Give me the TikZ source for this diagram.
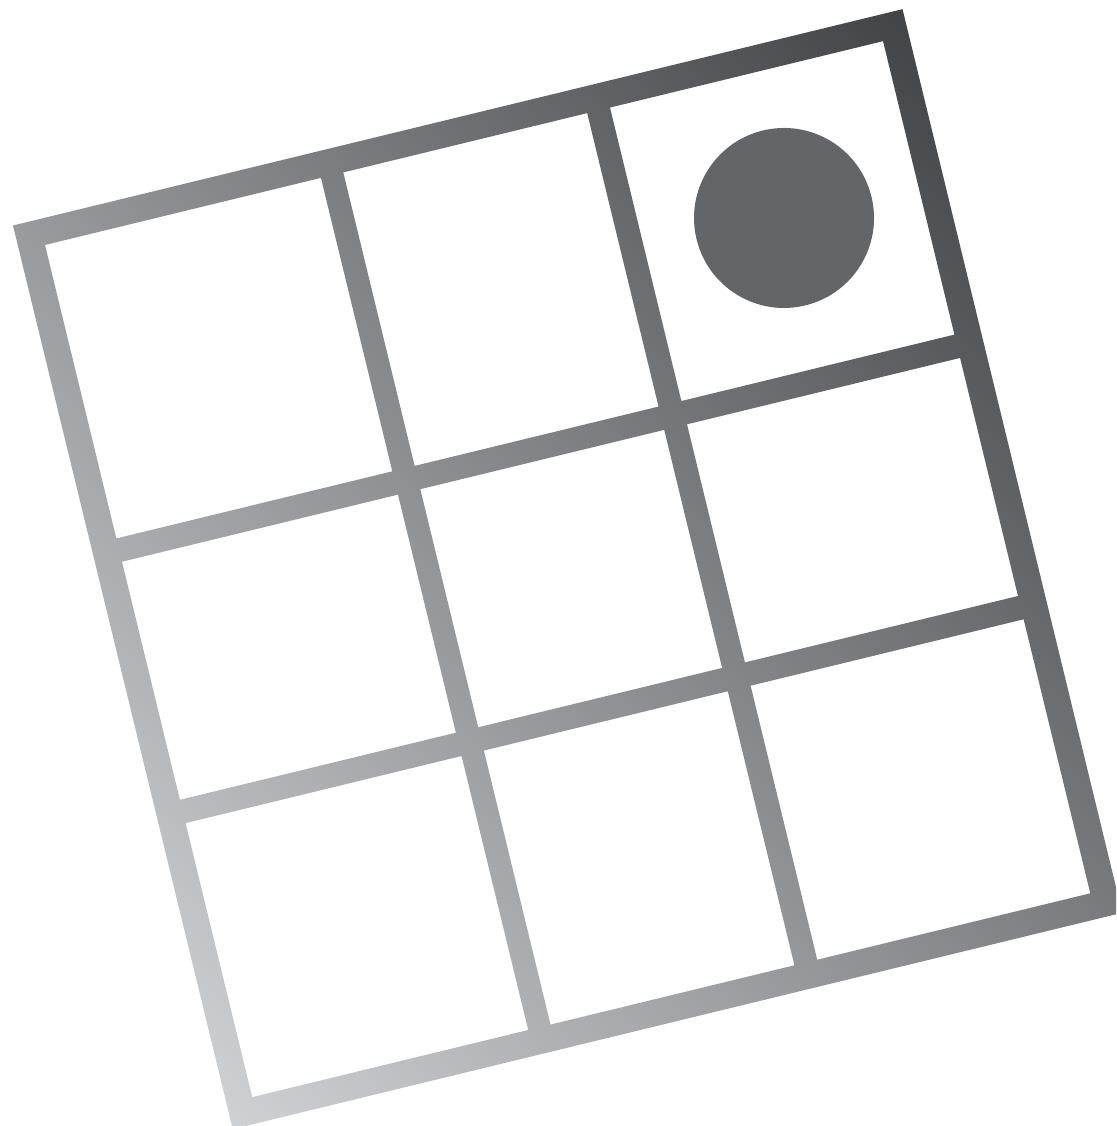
\documentclass[tikz,border=0pt]{standalone}
\usepackage{xcolor}
\usepackage{tikz}

\definecolor{griddark}{RGB}{49,50,52}
\definecolor{gridlight}{RGB}{226,227,229}
\definecolor{dotgray}{RGB}{100,101,103}

\begin{document}
\begin{tikzpicture}
    \tikzset{
      board/.style={shift={(0.45,8.81)}, rotate=13.67},
      grad/.style={top color=griddark, bottom color=gridlight}
    }
    \useasboundingbox (0,0) rectangle (11.16,11.26);
    \clip (0,0) rectangle (11.16,11.26);
    % frame and cells cut out of one region, then shaded
    \begin{scope}[board, even odd rule]
      \clip (-0.265,0.265) rectangle (8.89,-9.035)
        \foreach \xa/\xb in {0/2.84,3.07/5.58,5.815/8.625} {
          \foreach \ya/\yb in {0/3.02,3.26/5.71,5.95/8.77} {
            (\xa,-\ya) rectangle (\xb,-\yb)
          }
        };
      \pgftransformreset
      \begin{scope}[transform canvas={shift={(5.58,5.63)}, rotate=-45}]
        \shade[grad] (-8,-7.93) rectangle (8,7.93);
      \end{scope}
    \end{scope}
    % the dot in the top right cell
    \fill[dotgray, board] (7.245,-1.484) circle (0.9);
  \end{tikzpicture}
\end{document}
